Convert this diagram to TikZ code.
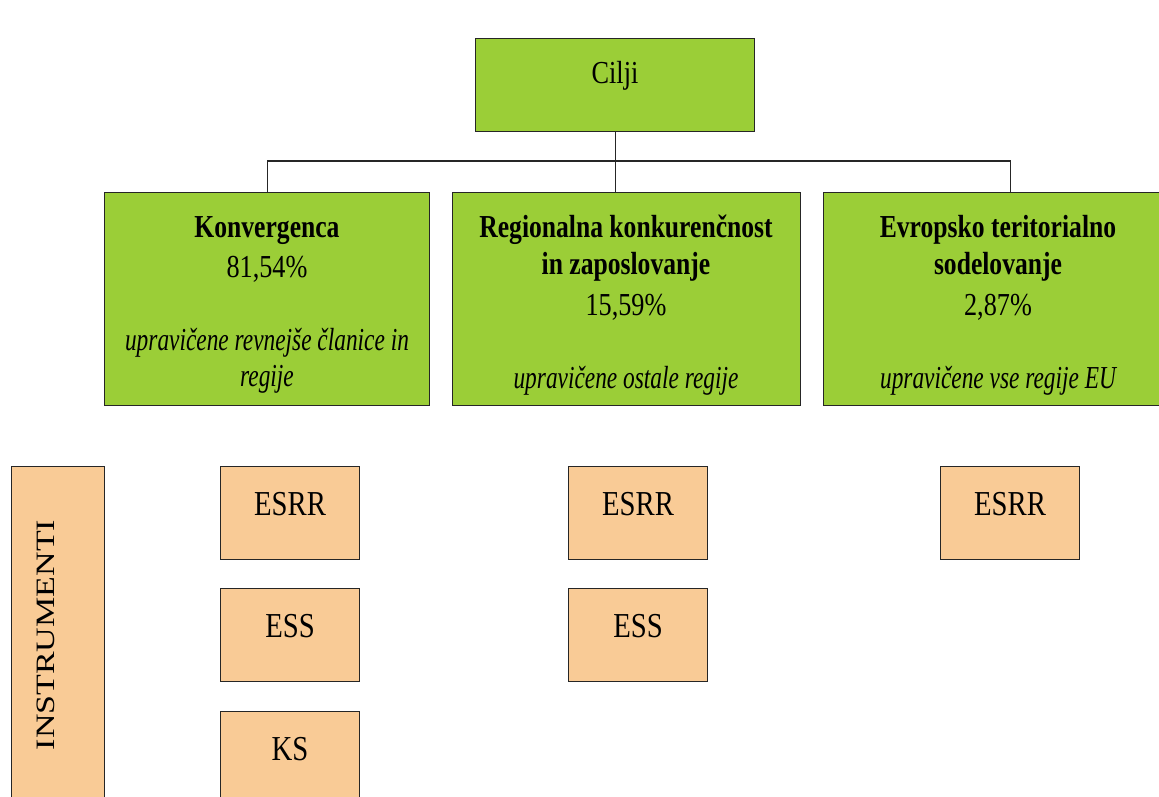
\documentclass[tikz,border=0pt]{standalone}
\usepackage{fontspec}
\setmainfont[FakeStretch=0.82]{Liberation Serif}
\newfontfamily\bfont[FakeStretch=0.8]{Liberation Serif Bold}
\newfontfamily\ifont[FakeStretch=0.73]{Liberation Serif Italic}
\newfontfamily\plainserif{Liberation Serif}
\definecolor{gr}{RGB}{155,206,55}
\definecolor{org}{RGB}{249,203,150}
\begin{document}
\begin{tikzpicture}[x=1pt,y=-1pt,
  box/.style={draw=black!85, line width=1.3pt, inner sep=0pt, anchor=north west},
  gbox/.style={box, fill=gr},
  obox/.style={box, fill=org, minimum width=139pt, minimum height=93pt},
  lbl/.style={anchor=base, inner sep=0pt, font=\fontsize{32}{37}\selectfont},
  blbl/.style={lbl, font=\fontsize{32}{37}\selectfont\bfont},
  ilbl/.style={lbl, font=\fontsize{32}{37}\selectfont\ifont},
  olbl/.style={anchor=base, inner sep=0pt, font=\fontsize{35}{40}\selectfont},
  conn/.style={draw=black!85, line width=1.2pt}]
\useasboundingbox (0,0) rectangle (1159,796);
\clip (0,0) rectangle (1159,796);
\fill[white] (0,0) rectangle (1159,796);

% top box
\node[gbox, minimum width=279pt, minimum height=93pt] (cilji) at (475,38) {};
\node[lbl] (tcilji) at (615,83) {Cilji};

% goal boxes
\node[gbox, minimum width=325pt, minimum height=213pt] (konv) at (104,192) {};
\node[gbox, minimum width=348pt, minimum height=213pt] (rcz) at (452,192) {};
\node[gbox, minimum width=374pt, minimum height=213pt] (ets) at (823,192) {};

\node[blbl] (k1) at (267,237) {Konvergenca};
\node[lbl] (k2) at (267,277) {81,54\%};
\node[ilbl] (k3) at (267,350) {upravičene revnejše članice in};
\node[ilbl] (k4) at (267,386) {regije};

\node[blbl] (r1) at (626,237) {Regionalna konkurenčnost};
\node[blbl] (r2) at (626,274) {in zaposlovanje};
\node[lbl] (r3) at (626,315) {15,59\%};
\node[ilbl] (r4) at (626,388) {upravičene ostale regije};

\node[blbl] (e1) at (998,237) {Evropsko teritorialno};
\node[blbl] (e2) at (998,274) {sodelovanje};
\node[lbl] (e3) at (998,315) {2,87\%};
\node[ilbl] (e4) at (998,388) {upravičene vse regije EU};

% connectors
\coordinate (bus) at (615,161);
\draw[conn] (cilji.south) -- (rcz.north -| cilji.south);
\draw[conn] (konv.north) -- (konv.north |- bus) -- (ets.north |- bus) -- (ets.north);

% instruments
\node[box, fill=org, minimum width=93pt, minimum height=350pt] (instr) at (11,466) {};
\node[inner sep=0pt] (tinstr) at (46,635) {\rotatebox{90}{\scalebox{1}[0.78]{\plainserif\fontsize{34}{40}\selectfont INSTRUMENTI}}};

\node[obox] (esrr1) at (220,466) {};
\node[obox] (ess1) at (220,588) {};
\node[obox] (ks1) at (220,711) {};
\node[obox] (esrr2) at (568,466) {};
\node[obox] (ess2) at (568,588) {};
\node[obox] (esrr3) at (940,466) {};

\node[olbl] (tesrr1) at (290,515) {ESRR};
\node[olbl] (tess1) at (290,637) {ESS};
\node[olbl] (tks1) at (290,760) {KS};
\node[olbl] (tesrr2) at (638,515) {ESRR};
\node[olbl] (tess2) at (638,637) {ESS};
\node[olbl] (tesrr3) at (1010,515) {ESRR};
\end{tikzpicture}
\end{document}
